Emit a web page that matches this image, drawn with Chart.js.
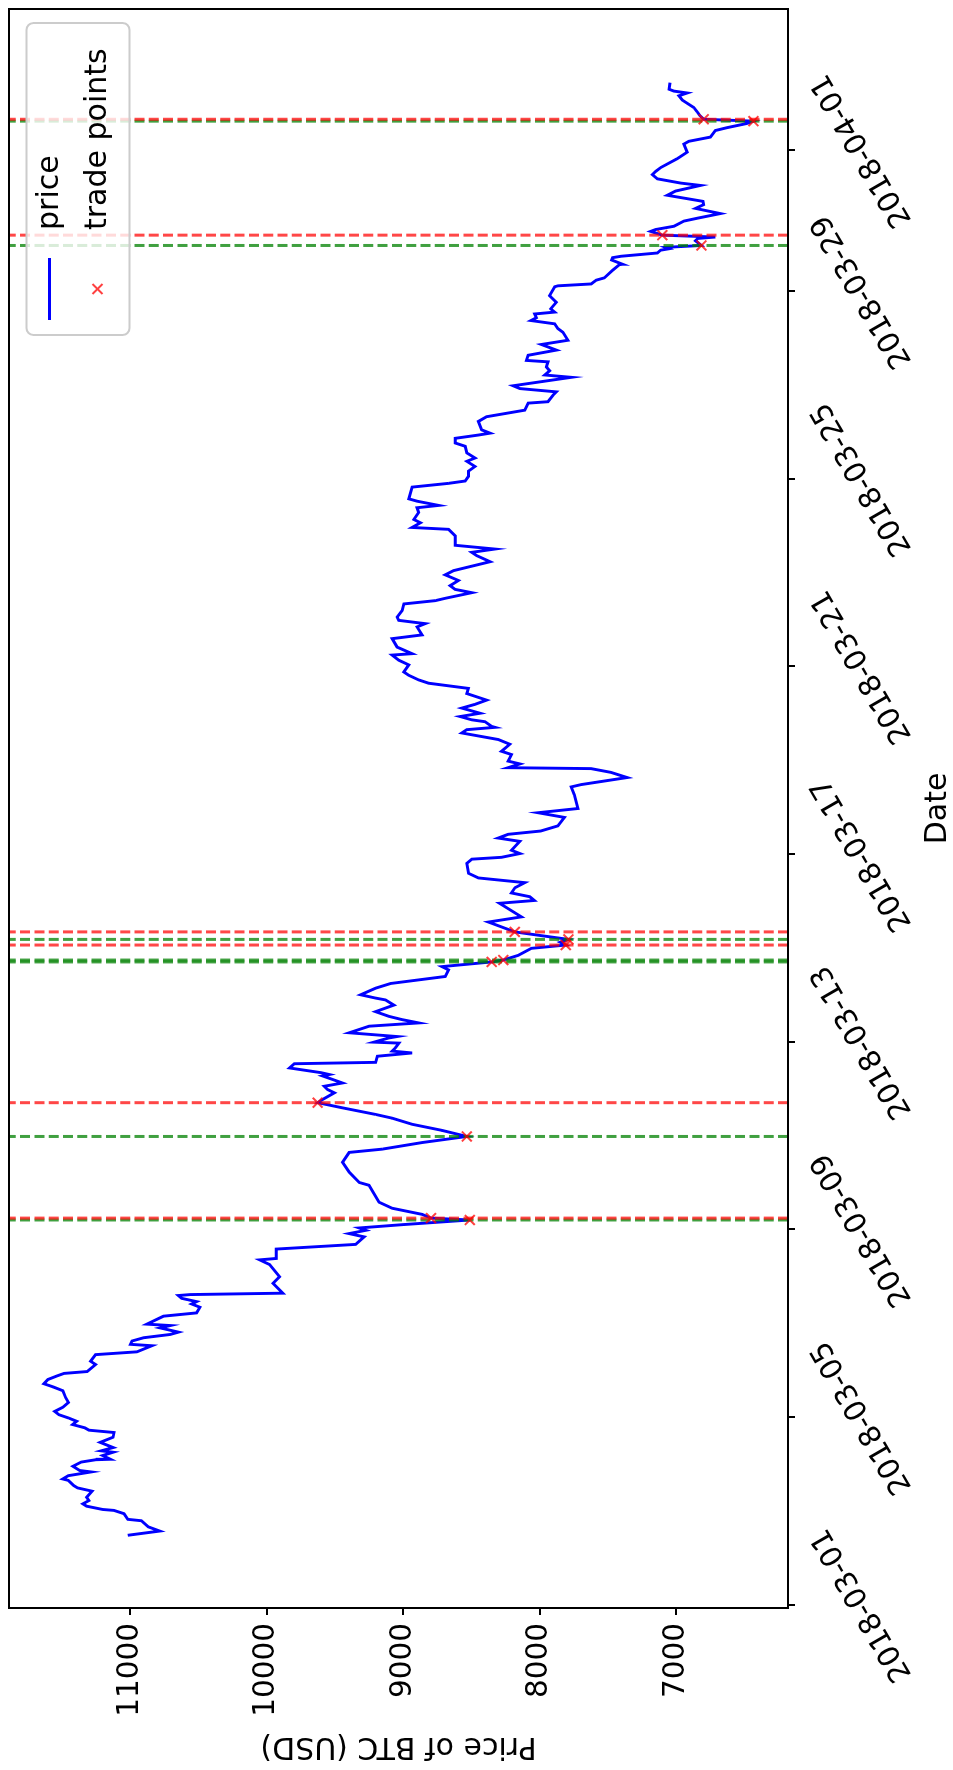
<!DOCTYPE html>
<html>
<head>
<meta charset="utf-8">
<script src="https://cdn.jsdelivr.net/npm/chart.js@4.4.1/dist/chart.umd.min.js"></script>
<style>
    html, body { margin: 0; padding: 0; background: #fff; overflow: hidden; }
    /* the picture is the plot turned a quarter turn to the left */
    #girar { position: absolute; left: 0; top: 0; width: 1770px; height: 953px;
             transform-origin: 0 0; transform: translate(0, 1770px) rotate(-90deg); }
</style>
</head>
<body>
<div id="girar"><canvas id="grafico" width="1770" height="953"></canvas></div>
<script>
// days counted from 2018-03-01 00:00
var priceDay = [1.48, 1.57, 1.66, 1.79, 1.82, 1.94, 2.01, 2.03, 2.10, 2.15,
    2.22, 2.29, 2.42, 2.49, 2.54, 2.65, 2.68, 2.75, 2.83, 2.86,
    2.95, 3.04, 3.09, 3.10, 3.18, 3.25, 3.28, 3.35, 3.46, 3.57,
    3.67, 3.72, 3.77, 3.84, 3.91, 3.98, 4.05, 4.12, 4.21, 4.31,
    4.41, 4.56, 4.64, 4.71, 4.80, 4.88, 4.93, 4.97, 5.12, 5.19,
    5.33, 5.39, 5.52, 5.55, 5.62, 5.69, 5.76, 5.81, 5.90, 5.95,
    5.98, 6.15, 6.22, 6.34, 6.41, 6.46, 6.53, 6.59, 6.61, 6.64,
    6.85, 6.99, 7.25, 7.35, 7.38, 7.58, 7.68, 7.84, 7.91, 7.98,
    8.03, 8.10, 8.20, 8.24, 8.32, 8.45, 8.58, 8.94, 9.00, 9.22,
    9.43, 9.64, 9.71, 9.85, 9.98, 10.11, 10.24, 10.37, 10.45, 10.59,
    10.70, 10.77, 10.91, 10.98, 11.05, 11.12, 11.27, 11.30, 11.34, 11.44,
    11.53, 11.56, 11.69, 11.76, 11.80, 11.87, 11.97, 11.99, 12.08, 12.11,
    12.19, 12.33, 12.40, 12.47, 12.54, 12.64, 12.78, 12.89, 12.93, 13.00,
    13.14, 13.24, 13.39, 13.53, 13.60, 13.70, 13.74, 13.84, 13.99, 14.06,
    14.12, 14.18, 14.26, 14.34, 14.55, 14.66, 14.95, 15.01, 15.09, 15.17,
    15.28, 15.39, 15.49, 15.59, 15.80, 15.89, 15.93, 16.01, 16.08, 16.27,
    16.34, 16.42, 16.49, 16.60, 16.78, 16.88, 16.97, 17.26, 17.43, 17.48,
    17.63, 17.74, 17.82, 17.84, 17.92, 17.98, 18.12, 18.19, 18.34, 18.44,
    18.58, 18.65, 18.70, 18.72, 18.82, 18.86, 18.93, 19.00, 19.11, 19.19,
    19.28, 19.42, 19.53, 19.64, 19.71, 19.81, 19.88, 20.03, 20.13, 20.24,
    20.27, 20.41, 20.59, 20.67, 20.84, 20.91, 20.98, 21.05, 21.19, 21.33,
    21.40, 21.45, 21.57, 21.64, 21.72, 21.83, 21.95, 22.04, 22.23, 22.36,
    22.43, 22.50, 22.58, 22.78, 22.92, 22.96, 23.06, 23.13, 23.28, 23.38,
    23.43, 23.52, 23.57, 23.82, 23.90, 23.95, 24.05, 24.16, 24.26, 24.37,
    24.44, 24.55, 24.69, 24.76, 24.86, 24.93, 24.97, 25.04, 25.22, 25.32,
    25.46, 25.61, 25.64, 25.78, 25.85, 25.92, 25.98, 26.16, 26.21, 26.30,
    26.38, 26.49, 26.52, 26.63, 26.74, 26.86, 26.95, 27.12, 27.20, 27.30,
    27.37, 27.43, 27.51, 27.55, 27.62, 27.76, 27.90, 28.09, 28.11, 28.15,
    28.23, 28.28, 28.44, 28.56, 28.57, 28.66, 28.71, 28.74, 28.81, 28.87,
    28.90, 28.93, 28.97, 29.07, 29.12, 29.15, 29.19, 29.27, 29.31, 29.38,
    29.49, 29.55, 29.65, 29.76, 29.84, 29.91, 30.04, 30.13, 30.25, 30.30,
    30.39, 30.48, 30.55, 30.63, 30.82, 30.96, 31.13, 31.19, 31.28, 31.42,
    31.48, 31.57, 31.62, 31.66, 31.74, 31.82, 31.91, 32.00, 32.07, 32.16,
    32.22, 32.26, 32.30, 32.44];
var priceUsd = [11016, 10782, 10866, 10916, 11016, 11043, 11116, 11200, 11317, 11344,
    11300, 11317, 11277, 11384, 11411, 11451, 11491, 11451, 11284, 11367,
    11417, 11357, 11250, 11143, 11200, 11123, 11210, 11123, 11217, 11123,
    11116, 11300, 11330, 11420, 11390, 11450, 11520, 11550, 11490, 11450,
    11470, 11490, 11560, 11630, 11600, 11530, 11482, 11312, 11251, 11288,
    11251, 10948, 10839, 10996, 10985, 10900, 10705, 10645, 10778, 10705,
    10876, 10754, 10512, 10487, 10548, 10512, 10621, 10645, 10560, 9881,
    9953, 9905, 9977, 10050, 9929, 9929, 9347, 9286, 9395, 9274,
    9322, 9007, 8512, 8796, 8862, 9080, 9177, 9250, 9322, 9395,
    9444, 9395, 9153, 8862, 8534, 8716, 8935, 9080, 9202, 9444,
    9626, 9589, 9504, 9553, 9577, 9444, 9589, 9541, 9602, 9832,
    9796, 9202, 9189, 8934, 9080, 9056, 9031, 9213, 9104, 9044,
    9395, 9250, 8886, 9007, 9104, 9202, 9068, 9129, 9202, 9311,
    9202, 9093, 8692, 8667, 8716, 8352, 8267, 8158, 8061, 7810,
    7850, 7790, 7988, 8183, 8376, 8134, 8295, 8040, 8073, 8207,
    8182, 8110, 8449, 8522, 8534, 8498, 8280, 8146, 8207, 8146,
    8304, 8231, 7993, 7867, 7819, 8013, 7721, 7746, 7770, 7697,
    7361, 7479, 7624, 8231, 8146, 8231, 8207, 8280, 8219, 8304,
    8571, 8534, 8328, 8352, 8401, 8498, 8583, 8437, 8571, 8474,
    8389, 8534, 8522, 8813, 8886, 8959, 8995, 8959, 9032, 9080,
    8935, 9044, 9080, 8862, 8898, 8838, 9032, 9044, 9007, 8995,
    8765, 8692, 8498, 8619, 8656, 8595, 8692, 8631, 8364, 8462,
    8498, 8328, 8619, 8619, 8668, 8935, 8874, 8922, 8886, 8898,
    8740, 8898, 8959, 8935, 8668, 8546, 8522, 8522, 8474, 8534,
    8474, 8534, 8546, 8619, 8619, 8449, 8364, 8425, 8449, 8389,
    8110, 8085, 7940, 7903, 7879, 8146, 8195, 7770, 7964, 7928,
    7952, 7940, 8098, 8085, 7879, 7988, 7794, 7831, 7867, 7891,
    8065, 8025, 8037, 7891, 7920, 7879, 7928, 7891, 7867, 7624,
    7588, 7527, 7467, 7418, 7394, 7474, 7467, 7406, 7139, 7115,
    7054, 7079, 6817, 6860, 6843, 6715, 7103, 7188, 7151, 7018,
    6945, 6848, 6678, 6860, 6800, 6805, 7067, 7006, 6824, 6969,
    7139, 7176, 7151, 7115, 6994, 6921, 6945, 6909, 6751, 6715,
    6630, 6484, 6436, 6800, 6829, 6848, 6872, 6921, 6957, 6982,
    6921, 7018, 7054, 7047];

// trades: green dashed = buy, red dashed = sell, red x = trade price
var buyDay = [8.20, 9.98, 13.70, 13.74, 14.18, 28.97, 31.62];
var sellDay = [8.24, 10.70, 14.06, 14.34, 29.19, 31.66];
var tradeDay = [8.20, 8.24, 9.98, 10.70, 13.70, 13.74, 14.06, 14.18, 14.34, 28.97, 29.19, 31.62, 31.66];
var tradePrice = [8512, 8796, 8534, 9626, 8352, 8267, 7810, 7790, 8183, 6817, 7103, 6436, 6800];

var dateTickDay = [0, 4, 8, 12, 16, 20, 24, 28, 31];
var dateTickLabel = ['2018-03-01', '2018-03-05', '2018-03-09', '2018-03-13', '2018-03-17', '2018-03-21', '2018-03-25', '2018-03-29', '2018-04-01'];
var priceTicks = [7000, 8000, 9000, 10000, 11000];

var xMin = -0.07, xMax = 34.01;
var yMin = 6183, yMax = 11885;

var fonte = 'DejaVu Sans';

if (priceDay.length != priceUsd.length) console.error('price arrays differ', priceDay.length, priceUsd.length);

var conjuntos = [];
conjuntos.push({
    label: 'trade points',
    data: tradeDay.map(function (d, i) { return { x: d, y: tradePrice[i] }; }),
    showLine: false,
    pointStyle: 'crossRot',
    pointRadius: 7,
    borderColor: 'rgba(255,0,0,0.75)',
    backgroundColor: 'rgba(255,0,0,0.75)',
    borderWidth: 2,
    order: 0
});
for (let i = 0; i < sellDay.length; i++) {
    conjuntos.push({
        label: 'sell', data: [{ x: sellDay[i], y: yMin }, { x: sellDay[i], y: yMax }],
        showLine: true, borderColor: 'rgba(255,0,0,0.72)', borderWidth: 3, borderDash: [10, 4.3],
        pointRadius: 0, order: 1
    });
}
for (let i = 0; i < buyDay.length; i++) {
    conjuntos.push({
        label: 'buy', data: [{ x: buyDay[i], y: yMin }, { x: buyDay[i], y: yMax }],
        showLine: true, borderColor: 'rgba(0,128,0,0.75)', borderWidth: 3, borderDash: [10, 4.3],
        pointRadius: 0, order: 2
    });
}
conjuntos.push({
    label: 'price',
    data: priceDay.map(function (d, i) { return { x: d, y: priceUsd[i] }; }),
    showLine: true, borderColor: '#0000ff', borderWidth: 2.9, pointRadius: 0, tension: 0, order: 3
});

// box round the plot, like matplotlib spines
const moldura = {
    id: 'moldura',
    afterDatasetsDraw(chart) {
        const ctx = chart.ctx, a = chart.chartArea;
        ctx.save();
        ctx.strokeStyle = '#000';
        ctx.lineWidth = 2;
        ctx.strokeRect(a.left, a.top, a.right - a.left, a.bottom - a.top);
        ctx.restore();
    }
};

// legend in the upper right corner
const legenda = {
    id: 'legenda',
    afterDraw(chart) {
        const ctx = chart.ctx, a = chart.chartArea;
        var bx = a.right - 14 - 312, by = a.top + 17.5;
        ctx.save();
        ctx.beginPath();
        ctx.roundRect(bx, by, 312, 103, 7);
        ctx.fillStyle = 'rgba(255,255,255,0.8)';
        ctx.fill();
        ctx.strokeStyle = '#cccccc';
        ctx.lineWidth = 2;
        ctx.stroke();

        ctx.strokeStyle = '#0000ff';
        ctx.lineWidth = 2.9;
        ctx.beginPath();
        ctx.moveTo(bx + 15, by + 23);
        ctx.lineTo(bx + 77, by + 23);
        ctx.stroke();

        ctx.strokeStyle = 'rgba(255,0,0,0.75)';
        ctx.lineWidth = 2;
        var mx = bx + 46, my = by + 71, r = 5;
        ctx.beginPath();
        ctx.moveTo(mx - r, my - r); ctx.lineTo(mx + r, my + r);
        ctx.moveTo(mx - r, my + r); ctx.lineTo(mx + r, my - r);
        ctx.stroke();

        ctx.fillStyle = '#000';
        ctx.font = '30px "' + fonte + '"';
        ctx.textBaseline = 'middle';
        ctx.textAlign = 'left';
        ctx.fillText('price', bx + 105, by + 24);
        ctx.fillText('trade points', bx + 105, by + 72);
        ctx.restore();
    }
};

new Chart(document.getElementById('grafico'), {
    type: 'scatter',
    data: { datasets: conjuntos },
    options: {
        responsive: false,
        animation: false,
        devicePixelRatio: 1,
        layout: { padding: { top: 4.5, right: 1, left: 0, bottom: 0 } },
        plugins: { legend: { display: false }, tooltip: { enabled: false } },
        scales: {
            x: {
                type: 'linear', min: xMin, max: xMax,
                afterBuildTicks: function (eixo) { eixo.ticks = dateTickDay.map(function (v) { return { value: v }; }); },
                afterFit: function (eixo) { eixo.height = 165; eixo.paddingLeft = 0; eixo.paddingRight = 0; },
                ticks: {
                    autoSkip: false, minRotation: 30, maxRotation: 30, padding: 9, labelOffset: 74,
                    color: '#000', font: { family: fonte, size: 29.5 },
                    callback: function (v) { return dateTickLabel[dateTickDay.indexOf(v)]; }
                },
                grid: { drawOnChartArea: false, drawTicks: true, tickLength: 7, color: '#000', lineWidth: 2 },
                border: { display: true, color: '#000', width: 2 },
                title: { display: true, text: 'Date', color: '#000', font: { family: fonte, size: 30, lineHeight: 1 }, padding: { top: 0, bottom: 0 } }
            },
            y: {
                type: 'linear', min: yMin, max: yMax,
                afterBuildTicks: function (eixo) { eixo.ticks = priceTicks.map(function (v) { return { value: v }; }); },
                afterFit: function (eixo) { eixo.width = 162; eixo.paddingTop = 0; eixo.paddingBottom = 0; },
                ticks: {
                    padding: 8, color: '#000', font: { family: fonte, size: 29.5 },
                    callback: function (v) { return String(v); }
                },
                grid: { drawOnChartArea: false, drawTicks: true, tickLength: 7, color: '#000', lineWidth: 2 },
                border: { display: true, color: '#000', width: 2 },
                title: { display: true, text: 'Price of BTC (USD)', color: '#000', font: { family: fonte, size: 30, lineHeight: 1 }, padding: { top: 9.5, bottom: 0 } }
            }
        }
    },
    plugins: [moldura, legenda]
});
</script>
</body>
</html>
